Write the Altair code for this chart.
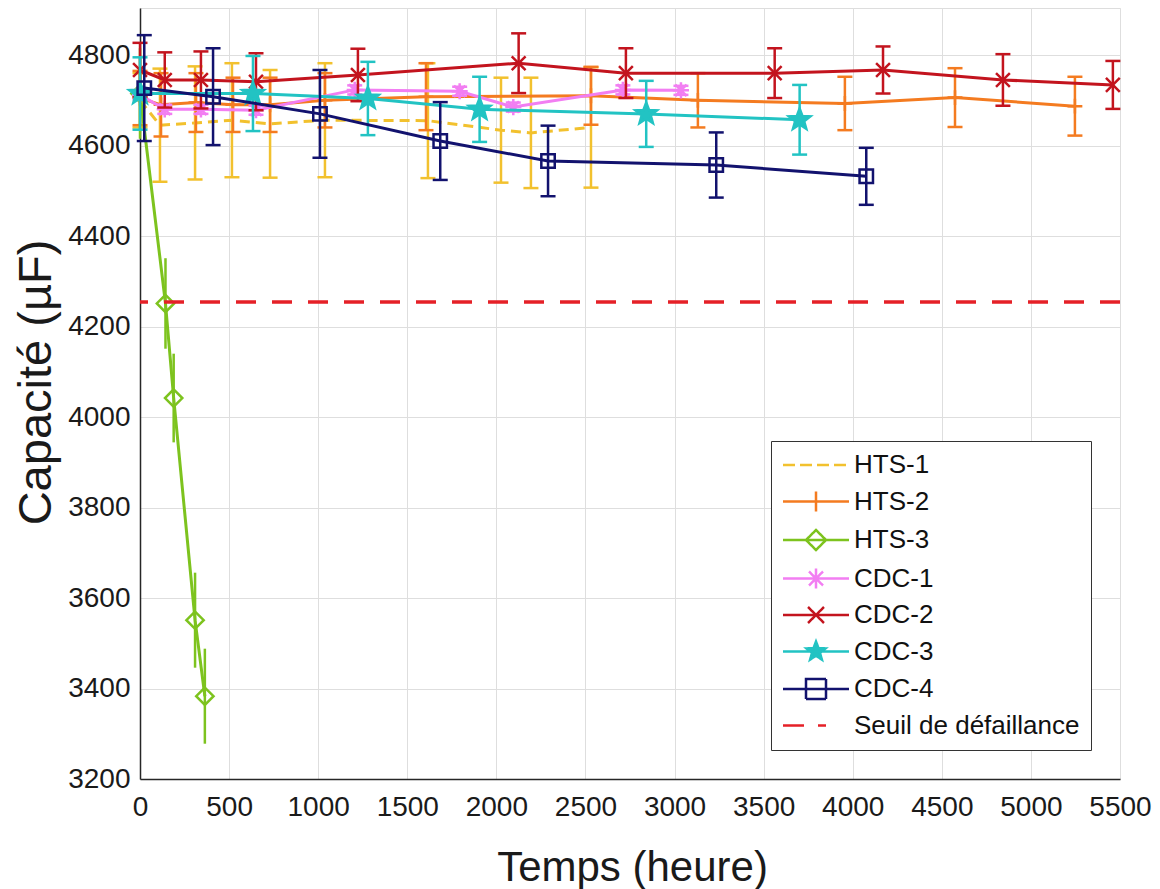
import math
import altair as alt
import pandas as pd

# ---------------- data ----------------
series_names = ["HTS-1", "HTS-2", "HTS-3", "CDC-1", "CDC-2", "CDC-3", "CDC-4"]
threshold_name = "Seuil de défaillance"

hts1_hours = [0, 112, 309, 516, 730, 1038, 1616, 2026, 2194, 2531]
hts1_cap = [4700, 4645, 4650, 4656, 4648, 4656, 4655, 4634, 4628, 4640]
hts1_err = [60, 125, 125, 126, 119, 126, 127, 116, 122, 133]

hts2_hours = [0, 118, 314, 522, 730, 1038, 1605, 2531, 3131, 3956, 4574, 5247]
hts2_cap = [4705, 4690, 4695, 4690, 4690, 4700, 4708, 4710, 4700, 4693, 4706, 4687]
hts2_err = [60, 70, 65, 60, 60, 60, 74, 64, 60, 59, 65, 65]

hts3_hours = [0, 143, 189, 309, 364]
hts3_cap = [4715, 4251, 4042, 3551, 3383]
hts3_err = [100, 100, 98, 105, 105]

cdc1_hours = [0, 139, 342, 651, 1205, 1794, 2095, 2710, 3036]
cdc1_cap = [4712, 4680, 4680, 4678, 4723, 4720, 4685, 4723, 4722]
cdc1_err = [10, 10, 10, 10, 10, 10, 10, 10, 10]

cdc2_hours = [0, 139, 342, 651, 1223, 2125, 2727, 3562, 4170, 4843, 5460]
cdc2_cap = [4767, 4745, 4745, 4741, 4756, 4782, 4760, 4760, 4767, 4745, 4734]
cdc2_err = [60, 61, 63, 63, 58, 66, 55, 55, 52, 57, 53]

cdc3_hours = [0, 634, 1279, 1906, 2841, 3702]
cdc3_cap = [4715, 4715, 4704, 4680, 4670, 4657]
cdc3_err = [80, 83, 81, 72, 73, 77]

cdc4_hours = [24, 410, 1010, 1685, 2290, 3234, 4076]
cdc4_cap = [4727, 4708, 4670, 4610, 4566, 4557, 4532]
cdc4_err = [117, 107, 97, 86, 78, 72, 63]

threshold_value = [4254]

x_ticks = [0, 500, 1000, 1500, 2000, 2500, 3000, 3500, 4000, 4500, 5000, 5500]
y_ticks = [3200, 3400, 3600, 3800, 4000, 4200, 4400, 4600, 4800]

# ---------------- styles ----------------
colors = {
    "HTS-1": "#F2C12E",
    "HTS-2": "#F47B20",
    "HTS-3": "#7DC31E",
    "CDC-1": "#F27EF2",
    "CDC-2": "#C3141E",
    "CDC-3": "#22C3C3",
    "CDC-4": "#12126E",
    threshold_name: "#E52027",
}

def star_path(ro=1.0, ri=0.42):
    pts = []
    for k in range(10):
        r = ro if k % 2 == 0 else ri
        a = -math.pi / 2 + k * math.pi / 5
        pts.append(f"{r*math.cos(a):.3f},{r*math.sin(a):.3f}")
    return "M" + "L".join(pts) + "Z"

marker_paths = {
    "HTS-1": None,
    "HTS-2": "M-1,0L1,0M0,-1L0,1",
    "HTS-3": "M0,-1L1,0L0,1L-1,0Z",
    "CDC-1": "M-1,0L1,0M0,-1L0,1M-0.7,-0.7L0.7,0.7M-0.7,0.7L0.7,-0.7",
    "CDC-2": "M-0.8,-0.8L0.8,0.8M-0.8,0.8L0.8,-0.8",
    "CDC-3": star_path(),
    "CDC-4": "M-1,-1L1,-1L1,1L-1,1Z",
}
marker_sizes = {"HTS-2": 220, "HTS-3": 300, "CDC-1": 260, "CDC-2": 300, "CDC-3": 520, "CDC-4": 180}
marker_filled = {"CDC-3": True}
dashes = {"HTS-1": [10, 6], threshold_name: [20, 16]}

LABEL_FONT = "Liberation Sans, Arial"
TITLE_FONT = "Liberation Sans, Arial"

raw = {
    "HTS-1": (hts1_hours, hts1_cap, hts1_err),
    "HTS-2": (hts2_hours, hts2_cap, hts2_err),
    "HTS-3": (hts3_hours, hts3_cap, hts3_err),
    "CDC-1": (cdc1_hours, cdc1_cap, cdc1_err),
    "CDC-2": (cdc2_hours, cdc2_cap, cdc2_err),
    "CDC-3": (cdc3_hours, cdc3_cap, cdc3_err),
    "CDC-4": (cdc4_hours, cdc4_cap, cdc4_err),
}

x_axis = alt.Axis(
    values=x_ticks, format="d", title="Temps (heure)", titleFont=TITLE_FONT, titleFontSize=42,
    titleFontWeight="normal", titleColor="#1a1a1a", titleX=492, titleY=101,
    titleAlign="center", titleBaseline="alphabetic",
    labelFont=LABEL_FONT, labelFontSize=28, labelColor="#1a1a1a", labelPadding=14,
    ticks=False, grid=True, gridColor="#dedede", gridWidth=1,
    domainColor="#262626", domainWidth=1.5, labelFlush=False,
)
y_axis = alt.Axis(
    values=y_ticks, format="d", title="Capacité (µF)", titleFont=TITLE_FONT, titleFontSize=47,
    titleFontWeight="normal", titleColor="#1a1a1a", titleX=-104, titleY=374,
    titleAlign="center", titleBaseline="middle", titleAngle=270,
    labelFont=LABEL_FONT, labelFontSize=28, labelColor="#1a1a1a", labelPadding=10,
    ticks=False, grid=True, gridColor="#dedede", gridWidth=1,
    domainColor="#262626", domainWidth=1.5, labelFlush=False,
)
x_enc = alt.X("h:Q", scale=alt.Scale(domain=[0, 5500], nice=False, zero=False), axis=x_axis)
y_dom = alt.Scale(domain=[3200, 4904], nice=False, zero=False)

layers = []
for name in series_names:
    hrs, cap, err = raw[name]
    d = pd.DataFrame({"h": hrs, "v": cap, "e": err})
    c = colors[name]
    base = alt.Chart(d).transform_calculate(lo="datum.v - datum.e", hi="datum.v + datum.e")
    layers.append(base.mark_rule(color=c, strokeWidth=2.5).encode(
        x=x_enc, y=alt.Y("lo:Q", scale=y_dom, axis=y_axis), y2="hi:Q"))
    if name != "HTS-3":
        for fld in ("lo", "hi"):
            layers.append(base.mark_tick(orient="horizontal", size=15, thickness=2.5,
                                         color=c, opacity=1).encode(
                x=x_enc, y=alt.Y(f"{fld}:Q", scale=y_dom, axis=y_axis)))
    line_kw = dict(color=c, strokeWidth=3)
    if name in dashes:
        line_kw["strokeDash"] = dashes[name]
    layers.append(base.mark_line(**line_kw).encode(
        x=x_enc, y=alt.Y("v:Q", scale=y_dom, axis=y_axis)))
    if marker_paths[name]:
        filled = marker_filled.get(name, False)
        pkw = dict(shape=marker_paths[name], size=marker_sizes[name], strokeWidth=2.5,
                   opacity=1, stroke=c, filled=filled)
        pkw["fill"] = c if filled else "transparent"
        layers.append(base.mark_point(**pkw).encode(
            x=x_enc, y=alt.Y("v:Q", scale=y_dom, axis=y_axis)))

thr = pd.DataFrame({"seuil": threshold_value})
layers.append(alt.Chart(thr).mark_rule(color=colors[threshold_name], strokeWidth=3.5,
                                       strokeDash=dashes[threshold_name]).encode(
    y=alt.Y("seuil:Q", scale=y_dom, axis=y_axis)))

# ---------------- legend (MATLAB-like: line through marker) ----------------
legend_names = series_names + [threshold_name]
LINE = "M-3.3,0L3.3,0"
leg_shapes = []
for n in legend_names:
    if n == threshold_name:
        leg_shapes.append("M-3.3,0L1.0,0")
    elif marker_paths.get(n):
        leg_shapes.append(LINE + marker_paths[n])
    else:
        leg_shapes.append(LINE)
leg_fills = [colors[n] if marker_filled.get(n) else "transparent" for n in legend_names]
leg_strokes = [colors[n] for n in legend_names]
leg_dash = [[12, 5] if n == "HTS-1" else ([21, 14] if n == threshold_name else [1, 0])
            for n in legend_names]

leg = alt.Legend(
    title=None, orient="none", legendX=631, legendY=433, direction="vertical",
    symbolSize=400, symbolStrokeWidth=2.5, symbolOffset=21,
    labelFont=TITLE_FONT, labelFontSize=26, labelColor="#111111", labelOffset=25,
    labelLimit=500, rowPadding=8.5, padding=11,
    strokeColor="#333333", fillColor="white", cornerRadius=0,
)
legend_df = pd.DataFrame({"series": legend_names})
legend_layer = alt.Chart(legend_df).transform_filter("false").mark_point(
    filled=True, opacity=1, strokeWidth=2.5).encode(
    stroke=alt.Stroke("series:N", scale=alt.Scale(domain=legend_names, range=leg_strokes), legend=leg),
    fill=alt.Fill("series:N", scale=alt.Scale(domain=legend_names, range=leg_fills), legend=leg),
    shape=alt.Shape("series:N", scale=alt.Scale(domain=legend_names, range=leg_shapes), legend=leg),
    strokeDash=alt.StrokeDash("series:N", scale=alt.Scale(domain=legend_names, range=leg_dash), legend=leg),
)
layers.append(legend_layer)

chart = alt.layer(*layers).properties(
    width=980, height=771,
    autosize=alt.AutoSizeParams(type="none"),
    padding={"left": 132, "top": 0, "right": 32, "bottom": 110},
).configure_view(stroke="#262626", strokeWidth=1.5).configure(background="white")

chart.save("out.html", embed_options={"renderer": "svg", "actions": False})
